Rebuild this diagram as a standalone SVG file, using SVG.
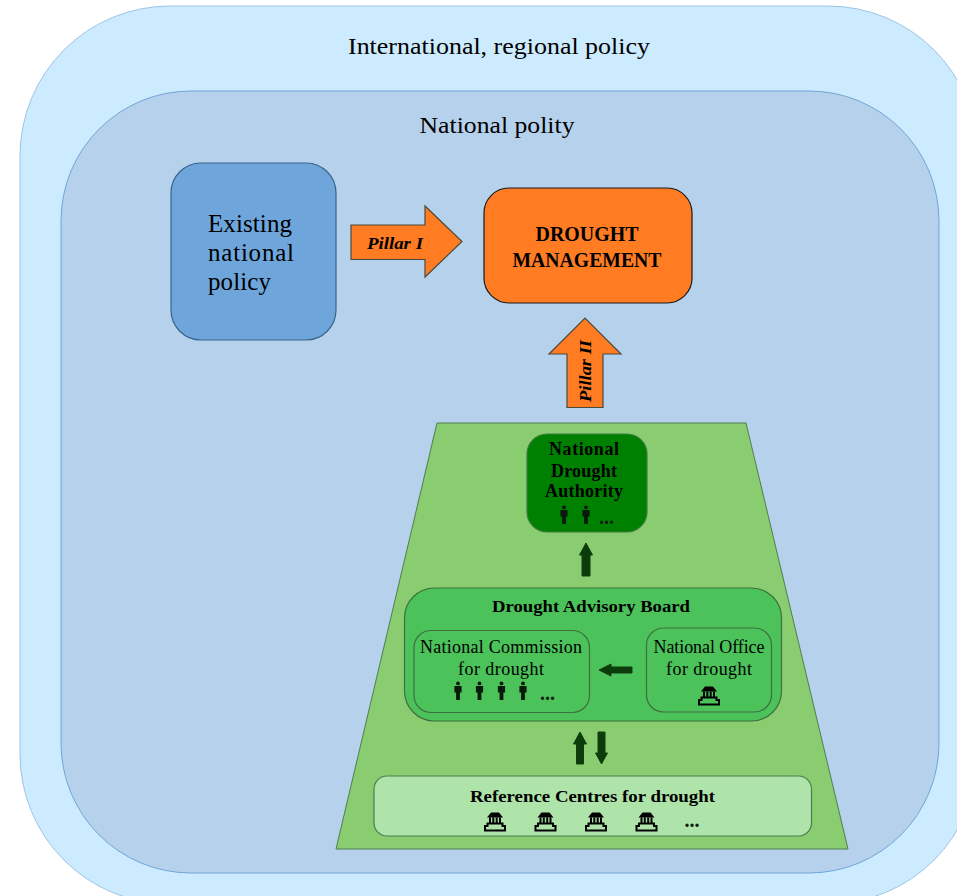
<svg xmlns="http://www.w3.org/2000/svg" xmlns:xlink="http://www.w3.org/1999/xlink" width="957" height="896" viewBox="0 0 957 896">
<style>
text{font-family:"Liberation Serif","DejaVu Serif",serif;fill:#000;text-anchor:middle}
.b{font-weight:700}
.dots{font-weight:700;font-size:20px;fill:#102010}
.dark{fill:#0b3d0b;stroke:#123c12;stroke-width:1}
.pill{fill:#ff7c22;stroke:#4a4a3a;stroke-width:1.2}
.g{stroke:#3f6f3f;stroke-width:1.2}
</style>
<defs>
<g id="person"><circle cx="0" cy="-7.600" r="1.9" fill="#0a1a0a"/><path d="M-3.600 -5H3.600V1.500H1.900V9H-1.900V1.500H-3.600Z" fill="#0a1a0a"/></g>
<g id="inst" fill="none" stroke="#000"><path d="M-8 -3.500H8L4 -8.500H-4Z" fill="#000" stroke="none"/><path d="M-5 -3.500V3M-1.700 -3.500V3M1.700 -3.500V3M5 -3.500V3" stroke-width="2"/><path d="M-7.500 2.500H7.500V5H10V9.500H-10V5H-7.500Z" stroke-width="2"/></g>
</defs>
<rect width="957" height="896" fill="#fff"/>
<g id="international"><rect x="20" y="6" width="958" height="898" rx="150" fill="#cdebfe" stroke="#9cc3e6" stroke-width="1"/>
<text x="499" y="54" font-size="24" textLength="302" lengthAdjust="spacingAndGlyphs">International, regional policy</text></g>
<g id="national"><rect x="61" y="91" width="878" height="782" rx="130" fill="#b6d1ec" stroke="#6fa5d8" stroke-width="1"/>
<text x="497" y="133" font-size="24" textLength="155" lengthAdjust="spacingAndGlyphs">National polity</text></g>
<g id="existing"><rect x="171" y="163" width="165" height="177" rx="30" fill="#6ea6dc" stroke="#3a648c" stroke-width="1.2"/>
<text font-size="25" style="text-anchor:start" lengthAdjust="spacingAndGlyphs"><tspan x="208" y="232" textLength="84">Existing</tspan><tspan x="208" y="261" textLength="86">national</tspan><tspan x="208" y="290" textLength="63">policy</tspan></text></g>
<g id="drought-management"><rect x="484" y="188" width="208" height="115" rx="25" fill="#ff7c22" stroke="#1a1a1a" stroke-width="1.2"/>
<text class="b" font-size="22"><tspan x="587" y="241" textLength="103" lengthAdjust="spacingAndGlyphs">DROUGHT</tspan><tspan x="587" y="267" textLength="149" lengthAdjust="spacingAndGlyphs">MANAGEMENT</tspan></text></g>
<g id="pyramid"><path d="M437 423H746L848 849H336Z" fill="#89cd70" stroke="#4f7d4f" stroke-width="1"/></g>
<g id="national-drought-authority"><rect x="527" y="434" width="120" height="98" rx="20" fill="#008000" stroke="#3e7a3e" stroke-width="1.2"/>
<text class="b" font-size="18" lengthAdjust="spacingAndGlyphs"><tspan x="584" y="455" textLength="70">National</tspan><tspan x="584" y="477" textLength="66">Drought</tspan><tspan x="584" y="497" textLength="78">Authority</tspan></text>
<use xlink:href="#person" href="#person" x="564" y="515"/><use xlink:href="#person" href="#person" x="586" y="515"/>
<text class="dots" x="606.500" y="524" textLength="15">...</text></g>
<g id="drought-advisory-board"><rect x="404.500" y="588" width="377" height="133" rx="30" fill="#4bc25a" class="g"/>
<text class="b" x="591" y="612" font-size="17.500" textLength="198" lengthAdjust="spacingAndGlyphs">Drought Advisory Board</text></g>
<g id="national-commission"><rect x="414" y="630.500" width="175.500" height="82" rx="17" fill="#4bc25a" class="g"/>
<text font-size="18" lengthAdjust="spacingAndGlyphs"><tspan x="501" y="653" textLength="162">National Commission</tspan><tspan x="501" y="675" textLength="86">for drought</tspan></text>
<use href="#person" x="458" y="691"/><use href="#person" x="479.500" y="691"/><use href="#person" x="501.500" y="691"/><use href="#person" x="523" y="691"/>
<text class="dots" x="547.500" y="700" textLength="15">...</text></g>
<g id="national-office"><rect x="646.500" y="628" width="125" height="84" rx="17" fill="#4bc25a" class="g"/>
<text font-size="18" lengthAdjust="spacingAndGlyphs"><tspan x="709" y="653" textLength="111">National Office</tspan><tspan x="709" y="675" textLength="86">for drought</tspan></text>
<use href="#inst" x="709" y="695"/></g>
<g id="reference-centres"><rect x="374" y="776" width="437.500" height="60" rx="13" fill="#aee3aa" stroke="#4f7d4f" stroke-width="1.2"/>
<text class="b" x="592.500" y="802" font-size="17.500" textLength="245" lengthAdjust="spacingAndGlyphs">Reference Centres for drought</text>
<use href="#inst" x="495" y="821"/><use href="#inst" x="545.500" y="821"/><use href="#inst" x="596" y="821"/><use href="#inst" x="646.500" y="821"/>
<text class="dots" x="692" y="827" textLength="15">...</text></g>
<g id="connectors">
<path class="pill" d="M351 225H425V206L462 241.500L425 277V259.500H351Z"/>
<path class="pill" d="M567 407.500V354H549L585 318L621 354H603V407.500Z"/>
<path class="dark" d="M582 576V555H579.500L586 543L592.500 555H590V576Z"/>
<path class="dark" d="M632 667V673H611V676L599 670L611 664V667Z"/>
<path class="dark" d="M576.500 764V744H573.500L580 732L586.500 744H583.500V764Z"/>
<path class="dark" d="M598 732V753H595.500L601.500 764L607.500 753H605V732Z"/>
</g>
<g id="pillar-labels">
<text class="b" x="395" y="249" font-size="17" font-style="italic" textLength="56" lengthAdjust="spacingAndGlyphs">Pillar I</text>
<text class="b" font-size="17" font-style="italic" textLength="62" lengthAdjust="spacingAndGlyphs" transform="translate(591 371) rotate(-90)">Pillar II</text>
</g>
</svg>
